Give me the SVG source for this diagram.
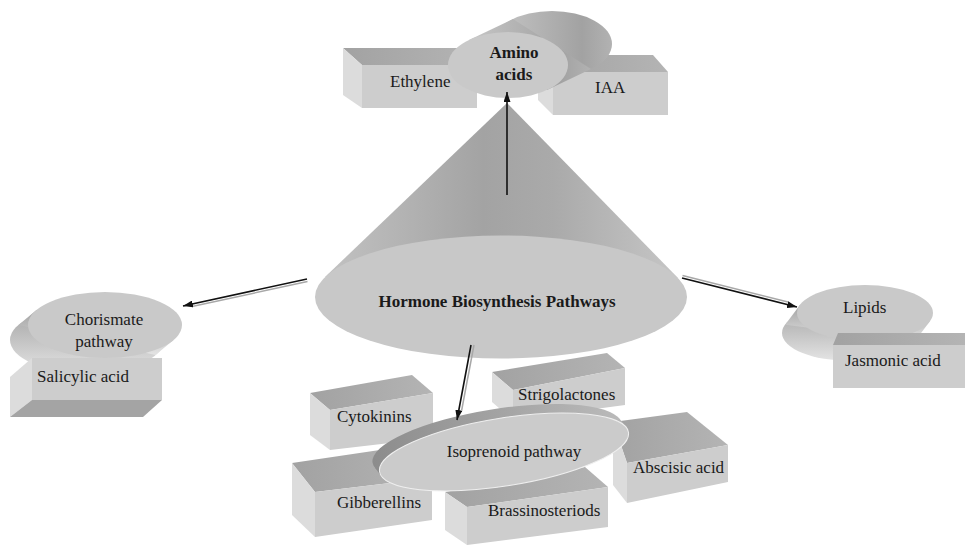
<svg xmlns="http://www.w3.org/2000/svg" width="965" height="548" viewBox="0 0 965 548">
<defs>
<style>
.t{font-family:"Liberation Serif","Times New Roman",serif;font-size:17px;fill:#1a1a1a}
.b{font-weight:bold}
.front{fill:#cdcdcd}
.side{fill:#dcdcdc}
.top{fill:url(#gTop)}
.bot{fill:#a4a4a4}
.face{fill:#c9c9c9}
.ln{stroke:#111;stroke-width:1.6;fill:none}
.sh{stroke:#a8a8a8;stroke-width:1.5;fill:none}
</style>
<linearGradient id="gTop" x1="0" y1="0" x2="1" y2="0">
<stop offset="0" stop-color="#a2a2a2"/><stop offset="1" stop-color="#b4b4b4"/>
</linearGradient>
<linearGradient id="gCone" x1="0" y1="0" x2="1" y2="0">
<stop offset="0" stop-color="#c2c2c2"/><stop offset="0.45" stop-color="#a3a3a3"/><stop offset="0.65" stop-color="#aaaaaa"/><stop offset="1" stop-color="#c6c6c6"/>
</linearGradient>
<linearGradient id="gRimA" x1="0" y1="0" x2="1" y2="0">
<stop offset="0" stop-color="#c6c6c6"/><stop offset="0.75" stop-color="#a2a2a2"/><stop offset="1" stop-color="#b2b2b2"/>
</linearGradient>
<linearGradient id="gRimL" x1="0" y1="0" x2="0" y2="1">
<stop offset="0" stop-color="#a2a2a2"/><stop offset="1" stop-color="#e4e4e4"/>
</linearGradient>
<linearGradient id="gRimI" x1="0" y1="0" x2="1" y2="0">
<stop offset="0" stop-color="#8c8c8c"/><stop offset="0.5" stop-color="#a2a2a2"/><stop offset="1" stop-color="#bababa"/>
</linearGradient>
<marker id="ah" markerWidth="10" markerHeight="7" refX="10" refY="3.5" orient="auto" markerUnits="userSpaceOnUse">
<path d="M0,0 L10,3.5 L0,7 z" fill="#111"/>
</marker>
</defs>
<rect width="965" height="548" fill="#fff"/>

<g id="ethylene">
<polygon class="top" points="343,48 458,48 477,65 362,65"/>
<polygon class="side" points="343,48 362,65 362,108 343,95"/>
<polygon class="front" points="362,65 477,65 477,108 362,108"/>
<text class="t" x="390" y="87">Ethylene</text>
</g>
<g id="iaa">
<polygon class="top" points="538,55 653,55 668,72 553,72"/>
<polygon class="side" points="538,55 553,72 553,115 538,100"/>
<polygon class="front" points="553,72 668,72 668,115 553,115"/>
<text class="t" x="595" y="93">IAA</text>
</g>
<g id="amino-acids">
<ellipse cx="552" cy="44" rx="60" ry="33" fill="url(#gRimA)"/>
<polygon points="469,40 513,19 591,69 547,90" fill="url(#gRimA)"/>
<ellipse class="face" cx="508" cy="65" rx="60" ry="33"/>
<text class="t b" x="514" y="58" text-anchor="middle" font-size="18">Amino</text>
<text class="t b" x="514" y="80" text-anchor="middle" font-size="18">acids</text>
</g>

<g id="hormone">
<polygon points="507,103 325,277 678,278" fill="url(#gCone)"/>
<ellipse cx="501" cy="297" rx="186" ry="61.5" fill="#c8c8c8"/>
<text class="t b" x="497" y="307" text-anchor="middle">Hormone Biosynthesis Pathways</text>
</g>

<g id="chorismate">
<ellipse cx="87" cy="340" rx="77" ry="33" fill="url(#gRimL)"/>
<polygon points="36.5,309.9 18.5,324.9 155.5,355.1 173.5,340.1" fill="url(#gRimL)"/>
<ellipse class="face" cx="105" cy="325" rx="77" ry="33"/>
<text class="t" x="104" y="325" text-anchor="middle">Chorismate</text>
<text class="t" x="104" y="347" text-anchor="middle">pathway</text>
</g>
<g id="salicylic">
<polygon class="side" points="32,358 10,377 10,417 32,400"/>
<polygon class="bot" points="32,400 162,400 143,417 10,417"/>
<polygon class="front" points="32,358 162,358 162,400 32,400"/>
<text class="t" x="37" y="382">Salicylic acid</text>
</g>

<g id="lipids">
<ellipse cx="850" cy="333" rx="68" ry="28" fill="url(#gRimL)"/>
<polygon points="800.1,304.7 785.1,324.7 914.9,341.3 929.9,321.3" fill="url(#gRimL)"/>
<ellipse class="face" cx="865" cy="313" rx="68" ry="28"/>
<text class="t" x="843" y="313">Lipids</text>
</g>
<g id="jasmonic">
<polygon class="top" points="838,333 965,333 965,345 833,345"/>
<polygon class="front" points="833,345 965,345 965,388 833,388"/>
<text class="t" x="845" y="366">Jasmonic acid</text>
</g>

<g id="cytokinins">
<polygon class="top" points="310,393 412,375 433,393 330,410"/>
<polygon class="side" points="310,393 330,410 330,450 310,435"/>
<polygon class="front" points="330,410 433,393 433,438 330,450"/>
<text class="t" x="337" y="422">Cytokinins</text>
</g>
<g id="strigolactones">
<polygon class="top" points="492,372 607,353 625,368 513,390"/>
<polygon class="side" points="492,372 513,390 513,420 492,402"/>
<polygon class="front" points="513,390 625,368 625,405 513,420"/>
<text class="t" x="518" y="400">Strigolactones</text>
</g>
<g id="gibberellins">
<polygon class="top" points="292,463 400,447 432,478 315,492"/>
<polygon class="side" points="292,463 315,492 315,537 292,515"/>
<polygon class="front" points="315,492 432,478 432,520 315,537"/>
<text class="t" x="337" y="508">Gibberellins</text>
</g>
<g id="brassinosteriods">
<polygon class="top" points="445,492 585,467 608,487 467,507"/>
<polygon class="side" points="445,492 467,507 467,545 445,530"/>
<polygon class="front" points="467,507 608,487 608,527 467,545"/>
<text class="t" x="488" y="516">Brassinosteriods</text>
</g>
<g id="abscisic">
<polygon class="top" points="613,422 687,412 728,445 627,463"/>
<polygon class="side" points="613,422 627,463 627,503 613,485"/>
<polygon class="front" points="627,463 728,445 728,482 627,503"/>
<text class="t" x="633" y="473">Abscisic acid</text>
</g>
<g id="isoprenoid">
<g transform="translate(504,452) rotate(-9)">
<ellipse cx="-5.5" cy="-10" rx="126" ry="34" fill="url(#gRimI)"/>
<polygon points="124.6,-5 119.1,-15 -130.1,-5 -124.6,5" fill="url(#gRimI)"/>
<ellipse cx="0" cy="0" rx="126" ry="34" fill="#cbcbcb" stroke="#efefef" stroke-width="1"/>
</g>
<text class="t" x="514" y="457" text-anchor="middle">Isoprenoid pathway</text>
</g>

<g id="connectors">
<line class="ln" x1="507" y1="195" x2="507" y2="92" marker-end="url(#ah)"/>
<line class="sh" x1="307.5" y1="281.5" x2="192" y2="306.5"/>
<line class="ln" x1="307" y1="279" x2="183" y2="306" marker-end="url(#ah)"/>
<line class="sh" x1="682.5" y1="275.5" x2="788" y2="302"/>
<line class="ln" x1="682" y1="278" x2="797" y2="307" marker-end="url(#ah)"/>
<line class="sh" x1="474" y1="345" x2="461.5" y2="411"/>
<line class="ln" x1="471" y1="345" x2="457" y2="420" marker-end="url(#ah)"/>
</g>
</svg>
